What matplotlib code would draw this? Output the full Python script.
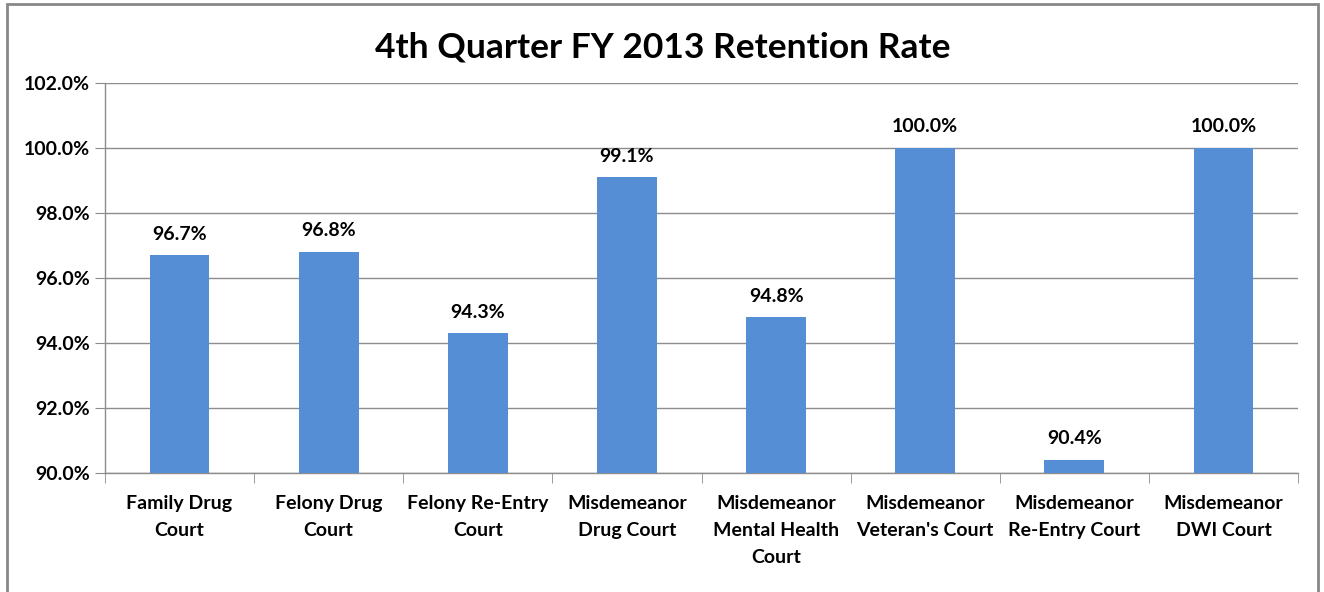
import matplotlib
matplotlib.use("Agg")
import matplotlib.pyplot as plt
from matplotlib.patches import Rectangle
from matplotlib.ticker import FixedLocator

categories = ["Family Drug\nCourt", "Felony Drug\nCourt", "Felony Re-Entry\nCourt",
              "Misdemeanor\nDrug Court", "Misdemeanor\nMental Health\nCourt",
              "Misdemeanor\nVeteran's Court", "Misdemeanor\nRe-Entry Court",
              "Misdemeanor\nDWI Court"]
values = [96.7, 96.8, 94.3, 99.1, 94.8, 100.0, 90.4, 100.0]
yticks = [90, 92, 94, 96, 98, 100, 102]
title = "4th Quarter FY 2013 Retention Rate"

plt.rcParams['font.family'] = ['Lato', 'DejaVu Sans']
W, H = 1324, 592
fig = plt.figure(figsize=(W / 100, H / 100), dpi=100)
fig.patch.set_facecolor('white')
fig.add_artist(Rectangle((7 / W, -0.05), (1318 - 7) / W, (592 - 3) / H + 0.05 - 0.002,
                         transform=fig.transFigure, fill=False, edgecolor='#888888', lw=2))

left, right, top, bottom = 105, 1298, 83, 473
ax = fig.add_axes([left / W, 1 - bottom / H, (right - left) / W, (bottom - top) / H])
x = list(range(len(categories)))
ax.bar(x, [v - 90 for v in values], bottom=90, width=0.4, color='#558ED5', zorder=3)
ax.set_xlim(-0.5, len(categories) - 0.5)
ax.set_ylim(90, 102)
ax.set_yticks(yticks)
ax.set_yticklabels([f"{t:.1f}%" for t in yticks], fontsize=14, fontweight='bold')
ax.yaxis.grid(True, color='#8c8c8c', lw=1, zorder=0)
ax.set_xticks(x)
ax.set_xticklabels(categories, fontsize=14, fontweight='bold', linespacing=1.72)
ax.tick_params(axis='x', length=0, pad=16)
ax.xaxis.set_minor_locator(FixedLocator([i - 0.5 for i in range(len(categories) + 1)]))
ax.tick_params(axis='x', which='minor', length=7, color='#8c8c8c', direction='out')
ax.tick_params(axis='y', length=7, color='#8c8c8c', pad=4)
for s in ['top', 'right']:
    ax.spines[s].set_visible(False)
for s in ['left', 'bottom']:
    ax.spines[s].set_color('#8c8c8c')
    ax.spines[s].set_linewidth(1)
for xi, v in zip(x, values):
    ax.annotate(f"{v:.1f}%", (xi, v), xytext=(0, 9), textcoords='offset points',
                ha='center', va='bottom', fontsize=14, fontweight='bold')
fig.text(663 / W, 1 - 48 / H, title, ha='center', va='center', fontsize=25.5, fontweight='bold')
fig.savefig("out.png", dpi=100)
